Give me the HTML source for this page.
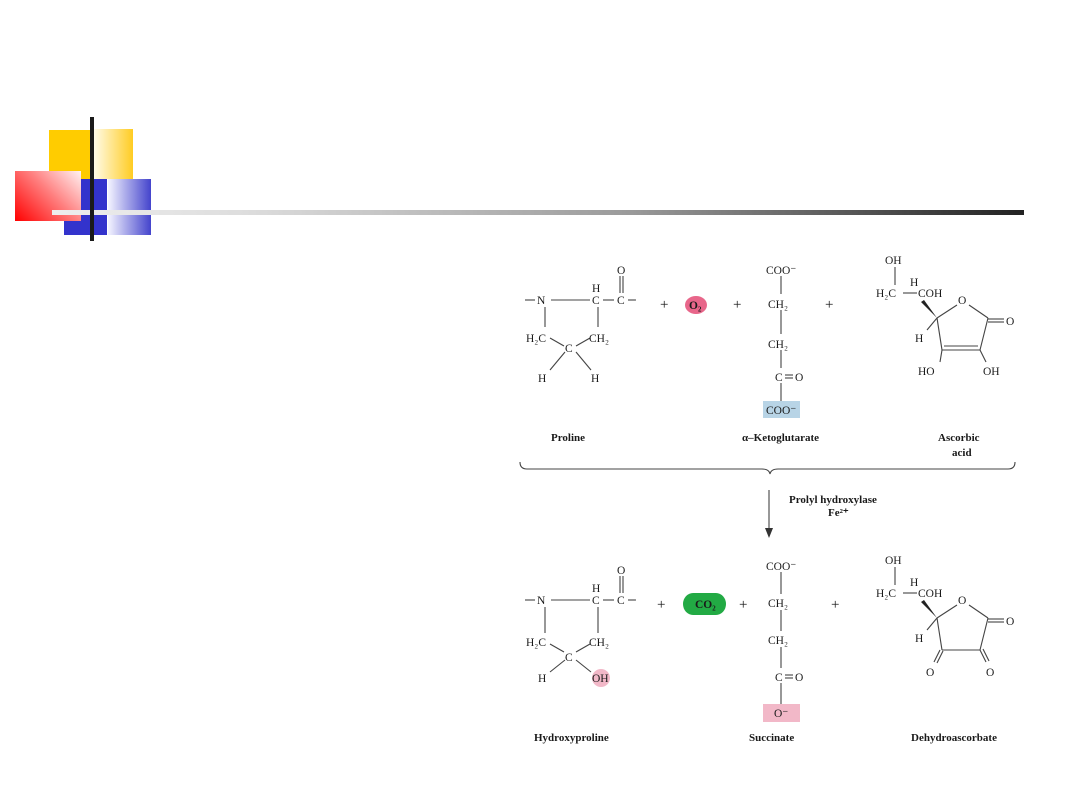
<!DOCTYPE html>
<html><head><meta charset="utf-8"><style>
html,body{margin:0;padding:0;background:#fff;}
body{width:1080px;height:810px;position:relative;overflow:hidden;}
.a{position:absolute;}
svg text{font-family:"Liberation Serif",serif;font-size:11.5px;fill:#1a1a1a;}
.p{font-size:15px;}
.b{font-weight:bold;font-size:11px;}
</style></head><body>
<div class="a" style="left:49px;top:130px;width:42px;height:50px;background:#ffcc00"></div>
<div class="a" style="left:94px;top:129px;width:39px;height:50px;background:linear-gradient(90deg,#fffbe8,#ffcc22)"></div>
<div class="a" style="left:64px;top:179px;width:43px;height:56px;background:#3333cc"></div>
<div class="a" style="left:108px;top:179px;width:43px;height:56px;background:linear-gradient(90deg,#f4f4ff,#4444cc)"></div>
<div class="a" style="left:15px;top:171px;width:66px;height:50px;background:linear-gradient(45deg,#ff0000,#ff8080 55%,#fff2f2)"></div>
<div class="a" style="left:52px;top:210px;width:972px;height:5px;background:linear-gradient(90deg,#eee,#ddd 20%,#999 60%,#222)"></div>
<div class="a" style="left:90px;top:117px;width:4px;height:124px;background:#1a1a1a"></div>
<svg class="a" style="left:0;top:0" width="1080" height="810" viewBox="0 0 1080 810">
<g stroke="#444" stroke-width="1.1" fill="none">
<line x1="525" y1="300" x2="535" y2="300"/><line x1="551" y1="300" x2="590" y2="300"/><line x1="603" y1="300" x2="614" y2="300"/><line x1="628" y1="300" x2="636" y2="300"/>
<line x1="620" y1="276" x2="620" y2="293"/><line x1="623" y1="276" x2="623" y2="293"/>
<line x1="545" y1="307" x2="545" y2="327"/><line x1="598" y1="307" x2="598" y2="327"/>
<line x1="550" y1="338" x2="564" y2="346"/><line x1="590" y1="338" x2="576" y2="346"/>
<line x1="565" y1="352" x2="550" y2="370"/><line x1="576" y1="352" x2="591" y2="370"/>
<line x1="781" y1="276" x2="781" y2="294"/><line x1="781" y1="310" x2="781" y2="334"/><line x1="781" y1="350" x2="781" y2="368"/><line x1="781" y1="383" x2="781" y2="401"/>
<line x1="785" y1="375" x2="793" y2="375"/><line x1="785" y1="378" x2="793" y2="378"/>
<line x1="895" y1="267" x2="895" y2="285"/><line x1="903" y1="293" x2="917" y2="293"/>
<line x1="937" y1="318" x2="957" y2="305"/><line x1="969" y1="305" x2="988" y2="318"/>
<line x1="937" y1="318" x2="942" y2="350"/><line x1="988" y1="318" x2="980" y2="350"/>
<line x1="942" y1="350" x2="980" y2="350"/><line x1="944" y1="346" x2="978" y2="346"/>
<line x1="988" y1="319" x2="1004" y2="319"/><line x1="988" y1="322" x2="1004" y2="322"/>
<line x1="942" y1="350" x2="940" y2="362"/><line x1="980" y1="350" x2="986" y2="362"/>
<line x1="937" y1="318" x2="927" y2="330"/>
<path d="M520 462 Q520 469 527 469 L762 469 Q769 469 770 474 Q771 469 778 469 L1008 469 Q1015 469 1015 462"/>
<line x1="769" y1="490" x2="769" y2="528"/>
<line x1="525" y1="600" x2="535" y2="600"/><line x1="551" y1="600" x2="590" y2="600"/><line x1="603" y1="600" x2="614" y2="600"/><line x1="628" y1="600" x2="636" y2="600"/>
<line x1="620" y1="576" x2="620" y2="593"/><line x1="623" y1="576" x2="623" y2="593"/>
<line x1="545" y1="607" x2="545" y2="633"/><line x1="598" y1="607" x2="598" y2="633"/>
<line x1="550" y1="644" x2="564" y2="652"/><line x1="590" y1="644" x2="576" y2="652"/>
<line x1="565" y1="660" x2="550" y2="672"/><line x1="576" y1="660" x2="591" y2="672"/>
<line x1="781" y1="572" x2="781" y2="594"/><line x1="781" y1="610" x2="781" y2="631"/><line x1="781" y1="647" x2="781" y2="668"/><line x1="781" y1="683" x2="781" y2="704"/>
<line x1="785" y1="675" x2="793" y2="675"/><line x1="785" y1="678" x2="793" y2="678"/>
<line x1="895" y1="567" x2="895" y2="585"/><line x1="903" y1="593" x2="917" y2="593"/>
<line x1="937" y1="618" x2="957" y2="605"/><line x1="969" y1="605" x2="988" y2="618"/>
<line x1="937" y1="618" x2="942" y2="650"/><line x1="988" y1="618" x2="980" y2="650"/>
<line x1="942" y1="650" x2="980" y2="650"/>
<line x1="988" y1="619" x2="1004" y2="619"/><line x1="988" y1="622" x2="1004" y2="622"/>
<line x1="940" y1="650" x2="934" y2="662"/><line x1="943" y1="651" x2="937" y2="663"/>
<line x1="980" y1="650" x2="986" y2="662"/><line x1="983" y1="649" x2="989" y2="661"/>
<line x1="937" y1="618" x2="927" y2="630"/>
</g>
<polygon points="765,528 773,528 769,538" fill="#333"/>
<polygon points="937,318 921,302 924,300" fill="#222"/>
<polygon points="937,618 921,602 924,600" fill="#222"/>
<ellipse cx="696" cy="305" rx="11" ry="9" fill="#e8668a"/>
<rect x="763" y="401" width="37" height="17" fill="#b8d4e6"/>
<ellipse cx="693" cy="604" rx="10" ry="11" fill="#22aa44"/><ellipse cx="716" cy="604" rx="10" ry="11" fill="#22aa44"/><rect x="693" y="593" width="23" height="22" fill="#22aa44"/>
<circle cx="601" cy="678" r="9" fill="#f2b8c8"/>
<rect x="763" y="704" width="37" height="18" fill="#f2b8c8"/>
<g>
<text x="537" y="304">N</text>
<text x="592" y="292">H</text><text x="592" y="304">C</text><text x="617" y="304">C</text><text x="617" y="274">O</text>
<text x="526" y="342">H₂C</text><text x="589" y="342">CH₂</text><text x="565" y="352">C</text>
<text x="538" y="382">H</text><text x="591" y="382">H</text>
<text x="660" y="309" class="p">+</text><text x="689" y="309" font-size="9" font-weight="bold">O₂</text><text x="733" y="309" class="p">+</text><text x="825" y="309" class="p">+</text>
<text x="766" y="274">COO⁻</text><text x="768" y="308">CH₂</text><text x="768" y="348">CH₂</text><text x="775" y="381">C</text><text x="795" y="381">O</text><text x="766" y="414">COO⁻</text>
<text x="885" y="264">OH</text><text x="910" y="286">H</text><text x="876" y="297">H₂C</text><text x="918" y="297">COH</text>
<text x="958" y="304">O</text><text x="1006" y="325">O</text><text x="915" y="342">H</text><text x="918" y="375">HO</text><text x="983" y="375">OH</text>
<text x="551" y="441" class="b">Proline</text>
<text x="742" y="441" class="b">α–Ketoglutarate</text>
<text x="938" y="441" class="b">Ascorbic</text><text x="952" y="456" class="b">acid</text>
<text x="789" y="503" class="b">Prolyl hydroxylase</text><text x="828" y="516" class="b">Fe²⁺</text>
<text x="537" y="604">N</text>
<text x="592" y="592">H</text><text x="592" y="604">C</text><text x="617" y="604">C</text><text x="617" y="574">O</text>
<text x="526" y="646">H₂C</text><text x="589" y="646">CH₂</text><text x="565" y="661">C</text>
<text x="538" y="682">H</text><text x="592" y="682">OH</text>
<text x="657" y="609" class="p">+</text><text x="695" y="608" font-size="9" font-weight="bold">CO₂</text><text x="739" y="609" class="p">+</text><text x="831" y="609" class="p">+</text>
<text x="766" y="570">COO⁻</text><text x="768" y="607">CH₂</text><text x="768" y="644">CH₂</text><text x="775" y="681">C</text><text x="795" y="681">O</text><text x="774" y="717">O⁻</text>
<text x="885" y="564">OH</text><text x="910" y="586">H</text><text x="876" y="597">H₂C</text><text x="918" y="597">COH</text>
<text x="958" y="604">O</text><text x="1006" y="625">O</text><text x="915" y="642">H</text><text x="926" y="676">O</text><text x="986" y="676">O</text>
<text x="534" y="741" class="b">Hydroxyproline</text>
<text x="749" y="741" class="b">Succinate</text>
<text x="911" y="741" class="b">Dehydroascorbate</text>
</g>
</svg>
</body></html>
